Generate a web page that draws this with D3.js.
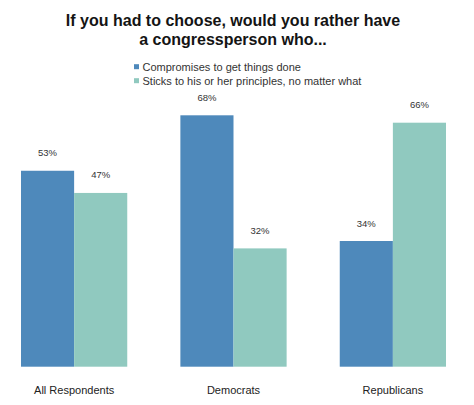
<!DOCTYPE html>
<html>
<head>
<meta charset="utf-8">
<script src="https://cdn.jsdelivr.net/npm/d3@7"></script>
<style>
  html, body { margin: 0; padding: 0; background: #fff; }
  svg { display: block; font-family: "Liberation Sans", Arial, Helvetica, sans-serif; }
</style>
</head>
<body>
<svg id="chart" width="474" height="405"></svg>
<script>
const titleLines = ["If you had to choose, would you rather have", "a congressperson who..."];
const categories = ["All Respondents", "Democrats", "Republicans"];
const seriesNames = ["Compromises to get things done", "Sticks to his or her principles, no matter what"];
const compromises = [53, 68, 34];
const principles = [47, 32, 66];
const colors = ["#4e89bb", "#90c9bf"];

const svg = d3.select("#chart");

// Title
svg.append("g").selectAll("text").data(titleLines).join("text")
  .attr("x", 233)
  .attr("y", (d, i) => 26 + i * 18.6)
  .attr("text-anchor", "middle")
  .attr("font-size", 16)
  .attr("font-weight", "bold")
  .attr("fill", "#141414")
  .text(d => d);

// Legend
const legend = svg.append("g").attr("transform", "translate(134,0)");
const li = legend.selectAll("g").data(seriesNames).join("g")
  .attr("transform", (d, i) => `translate(0,${70.7 + i * 14})`);
li.append("rect").attr("x", 0).attr("y", -6.5).attr("width", 5).attr("height", 5)
  .attr("fill", (d, i) => colors[i]);
li.append("text").attr("x", 8.5).attr("y", 0)
  .attr("font-size", 11).attr("fill", "#333").text(d => d);

// Scales
const x = d3.scaleBand().domain(categories).range([21, 446]).paddingInner(1/3).paddingOuter(0);
const xs = d3.scaleBand().domain([0, 1]).range([0, x.bandwidth()]);
const y = d3.scaleLinear().domain([0, 100]).range([366.7, -3.0]);

const data = categories.map((c, i) => ({ cat: c, vals: [compromises[i], principles[i]] }));

const groups = svg.append("g").selectAll("g").data(data).join("g")
  .attr("transform", d => `translate(${x(d.cat)},0)`);

groups.selectAll("rect").data(d => d.vals.map((v, k) => ({ v, k }))).join("rect")
  .attr("x", d => xs(d.k))
  .attr("y", d => y(d.v))
  .attr("width", xs.bandwidth())
  .attr("height", d => y(0) - y(d.v))
  .attr("fill", d => colors[d.k]);

groups.selectAll("text.val").data(d => d.vals.map((v, k) => ({ v, k }))).join("text")
  .attr("class", "val")
  .attr("x", d => xs(d.k) + xs.bandwidth() / 2)
  .attr("y", d => y(d.v) - 14.5)
  .attr("text-anchor", "middle")
  .attr("font-size", 9.5)
  .attr("fill", "#333")
  .text(d => d.v + "%");

// Category axis
const axis = svg.append("g")
  .attr("transform", `translate(0,${y(0)})`)
  .call(d3.axisBottom(x).tickSize(0).tickPadding(20));
axis.select(".domain").remove();
axis.selectAll("text")
  .attr("font-size", 11)
  .attr("font-family", "'Liberation Sans', Arial, Helvetica, sans-serif")
  .attr("fill", "#222");
</script>
</body>
</html>
